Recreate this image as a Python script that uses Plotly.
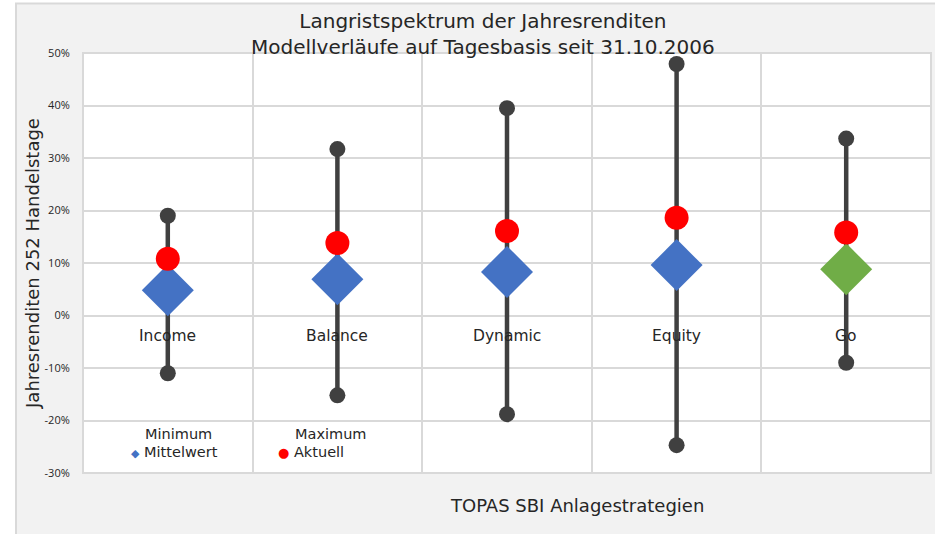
import plotly.graph_objects as go

categories = ["Income", "Balance", "Dynamic", "Equity", "Go"]
minimum = [-11.0, -15.2, -18.8, -24.7, -9.0]
maximum = [19.0, 31.7, 39.5, 47.9, 33.7]
mittelwert = [4.8, 6.9, 8.3, 9.6, 8.8]
aktuell = [10.8, 13.8, 16.1, 18.6, 15.8]
mean_colors = ["#4472C4", "#4472C4", "#4472C4", "#4472C4", "#70AD47"]
yticks = [-30, -20, -10, 0, 10, 20, 30, 40, 50]
ytick_labels = [f"{v}%" for v in yticks]

FONT = "DejaVu Sans, sans-serif"
TICKFONT = "Open Sans, DejaVu Sans, sans-serif"
TXT = "#262626"
xs = list(range(len(categories)))


def px_x(p):
    return (p - 83) / 848


def px_y(p):
    return (473 - p) / 420


fig = go.Figure()

# range lines
for i in xs:
    fig.add_trace(go.Scatter(x=[i, i], y=[minimum[i], maximum[i]], mode="lines",
                             line=dict(color="#404040", width=4.5), showlegend=False, hoverinfo="skip"))
fig.add_trace(go.Scatter(x=xs, y=minimum, mode="markers", name="Minimum",
                         marker=dict(color="#404040", size=16), showlegend=False))
fig.add_trace(go.Scatter(x=xs, y=maximum, mode="markers", name="Maximum",
                         marker=dict(color="#404040", size=16), showlegend=False))
fig.add_trace(go.Scatter(x=xs, y=mittelwert, mode="markers", name="Mittelwert",
                         marker=dict(color=mean_colors, size=40, symbol="diamond"), showlegend=False))
fig.add_trace(go.Scatter(x=xs, y=aktuell, mode="markers", name="Aktuell",
                         marker=dict(color="#FF0000", size=24), showlegend=False))

# background panels
fig.add_shape(type="rect", xref="paper", yref="paper", x0=-0.079, x1=1.02, y0=-0.2, y1=1.118,
              fillcolor="#F2F2F2", line=dict(color="#D9D9D9", width=2), layer="below")
fig.add_shape(type="rect", xref="paper", yref="paper", x0=0, x1=1, y0=0, y1=1,
              fillcolor="#FFFFFF", line=dict(color="#D9D9D9", width=2), layer="below")

# category labels
for i, c in enumerate(categories):
    fig.add_annotation(x=i, y=0, xref="x", yref="y", text=c, showarrow=False,
                       yanchor="top", yshift=-9, font=dict(family=FONT, size=15.5, color=TXT))

# title
fig.add_annotation(x=px_x(483), y=px_y(7), xref="paper", yref="paper", showarrow=False, yanchor="top",
                   text="Langristspektrum der Jahresrenditen<br>Modellverläufe auf Tagesbasis seit 31.10.2006",
                   font=dict(family=FONT, size=20, color=TXT))
# x title
fig.add_annotation(x=px_x(577), y=px_y(505), xref="paper", yref="paper", showarrow=False,
                   xanchor="center", yanchor="middle",
                   text="TOPAS SBI Anlagestrategien", font=dict(family=FONT, size=18, color=TXT))

# legend
fig.add_annotation(x=px_x(178), y=px_y(434), xref="paper", yref="paper", showarrow=False,
                   xanchor="center", yanchor="middle",
                   text="Minimum", font=dict(family=FONT, size=14.5, color=TXT))
fig.add_annotation(x=px_x(330), y=px_y(434), xref="paper", yref="paper", showarrow=False,
                   xanchor="center", yanchor="middle",
                   text="Maximum", font=dict(family=FONT, size=14.5, color=TXT))
fig.add_annotation(x=px_x(129), y=px_y(452), xref="paper", yref="paper", showarrow=False,
                   xanchor="left", yanchor="middle",
                   text="<span style='color:#4472C4;font-size:11px'>◆</span> Mittelwert",
                   font=dict(family=FONT, size=14.5, color=TXT))
fig.add_annotation(x=px_x(276), y=px_y(452), xref="paper", yref="paper", showarrow=False,
                   xanchor="left", yanchor="middle",
                   text="<span style='color:#FF0000;font-size:13px'>●</span> Aktuell",
                   font=dict(family=FONT, size=14.5, color=TXT))

fig.update_layout(
    width=935, height=534,
    margin=dict(l=83, r=4, t=53, b=61, autoexpand=False),
    paper_bgcolor="#FFFFFF", plot_bgcolor="rgba(0,0,0,0)",
    font=dict(family=FONT, color=TXT),
    showlegend=False,
    yaxis=dict(
        title=dict(text="Jahresrenditen 252 Handelstage", font=dict(family=FONT, size=18, color=TXT), standoff=0),
        range=[-30, 50], tickvals=yticks, ticktext=ytick_labels,
        tickfont=dict(family=TICKFONT, size=11, color=TXT),
        showgrid=True, gridcolor="#D9D9D9", gridwidth=1.5, zeroline=False,
        ticks="outside", ticklen=10, tickcolor="rgba(0,0,0,0)",
        showline=False, automargin=False,
    ),
    xaxis=dict(
        range=[-0.5, 4.5], tickvals=[-0.5, 0.5, 1.5, 2.5, 3.5, 4.5], showticklabels=False,
        showgrid=True, gridcolor="#D9D9D9", gridwidth=1.5, zeroline=False, showline=False,
        automargin=False,
    ),
)

fig.write_html("out.html", config={"displayModeBar": False},
               post_script="document.body.style.margin='0';document.body.style.overflow='hidden';")
